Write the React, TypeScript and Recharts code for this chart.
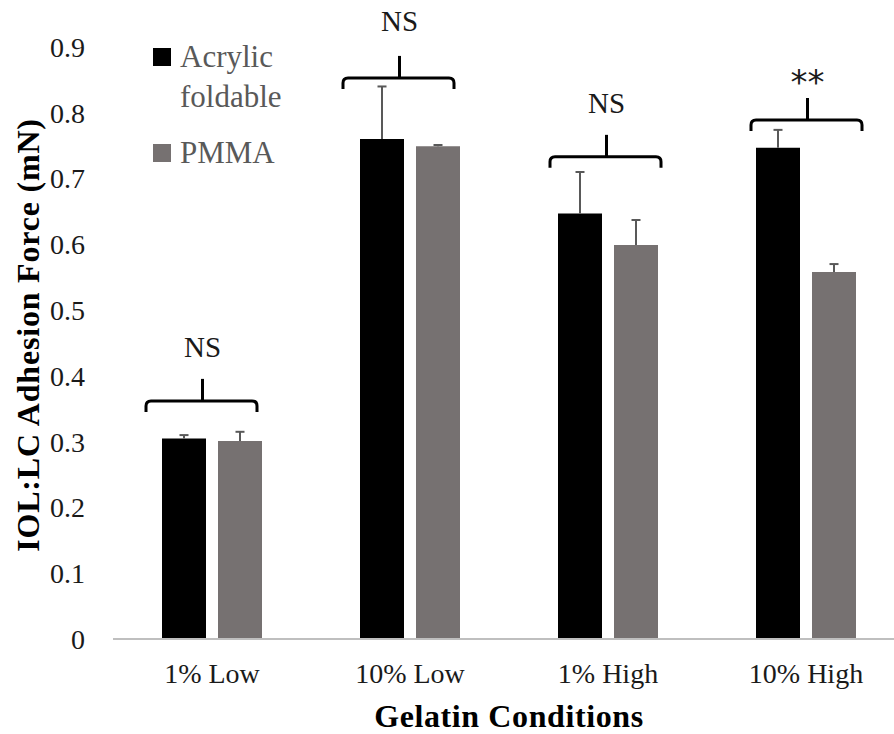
import { BarChart, Bar, XAxis, YAxis, Legend, LabelList } from 'recharts'

const categories = ['1% Low', '10% Low', '1% High', '10% High']
const acrylic = [0.305, 0.76, 0.647, 0.747]
const acrylicErr = [0.005, 0.08, 0.063, 0.027]
const pmma = [0.301, 0.749, 0.599, 0.558]
const pmmaErr = [0.014, 0.002, 0.038, 0.012]

// significance brackets, in axis units
const bracketLevel = [0.362, 0.853, 0.733, 0.789]
const sigLabels = ['NS', 'NS', 'NS', '**']
const sigLevel = [0.429, 0.924, 0.8, 0.829]

const yTicks = [0, 0.1, 0.2, 0.3, 0.4, 0.5, 0.6, 0.7, 0.8, 0.9]

const SERIF = "'Liberation Serif', 'Times New Roman', serif"
const BAR_W = 44
const BAR_GAP = 12
// the brackets were placed by hand, a bit off the bar pair
const bracketShift = [-16, -17, -8, -5]
const BRACKET_W = 111

const data = categories.map((name, i) => ({
  name,
  acrylic: acrylic[i],
  pmma: pmma[i],
}))

// plus-only error bars, like the Excel original
function whisker(values: number[], errs: number[]) {
  return (props: any) => {
    const vb = props.viewBox ?? props
    const i = props.index
    if (i == null || vb == null) return null
    const { x, y, width, height } = vb
    const k = height / values[i]
    const top = y - errs[i] * k
    const cx = x + width / 2
    return (
      <g stroke="#595959" strokeWidth={2}>
        <line x1={cx} y1={y} x2={cx} y2={top} />
        <line x1={cx - 4.5} y1={top} x2={cx + 4.5} y2={top} />
      </g>
    )
  }
}

function Bracket(props: any) {
  const vb = props.viewBox ?? props
  const i = props.index
  if (i == null || vb == null) return null
  const { x, y, height } = vb
  const base = y + height
  const k = height / acrylic[i]
  const py = (v: number) => base - v * k
  const left = x + bracketShift[i]
  const right = left + BRACKET_W
  const cx = (left + right) / 2 + 1
  const yh = py(bracketLevel[i])
  const r = 5
  const d = `M${left},${yh + 11} L${left},${yh + r} Q${left},${yh} ${left + r},${yh} L${right - r},${yh} Q${right},${yh} ${right},${yh + r} L${right},${yh + 11}`
  const star = sigLabels[i] === '**'
  return (
    <g>
      <path d={d} fill="none" stroke="#000" strokeWidth={3} />
      <path d={`M${cx},${yh} L${cx},${yh - 22}`} stroke="#000" strokeWidth={3} />
      <text
        x={cx}
        y={py(sigLevel[i])}
        textAnchor="middle"
        fontFamily={star ? "'DejaVu Sans', sans-serif" : SERIF}
        fontSize={star ? 34 : 29}
        fill="#1a1a1a"
      >
        {sigLabels[i]}
      </text>
    </g>
  )
}

function LegendBox({ payload }: any) {
  return (
    <div style={{ fontFamily: SERIF, fontSize: 31, lineHeight: '40px', color: '#595959' }}>
      {(payload ?? []).map((p: any, i: number) => (
        <div key={i} style={{ display: 'flex', alignItems: 'flex-start', marginBottom: 16 }}>
          <span
            style={{ width: 18, height: 18, background: p.color, marginTop: 11.5, marginRight: 9, flex: 'none' }}
          />
          <span style={{ width: 112 }}>{p.value}</span>
        </div>
      ))}
    </div>
  )
}

function XTitle(props: any) {
  const vb = props.viewBox ?? {}
  return (
    <text
      x={vb.x + vb.width / 2}
      y={vb.y + vb.height - 7}
      textAnchor="middle"
      fontFamily={SERIF}
      fontWeight="bold"
      fontSize={32}
      letterSpacing={0.6}
      fill="#000"
    >
      Gelatin Conditions
    </text>
  )
}

function YTitle(props: any) {
  const vb = props.viewBox ?? {}
  const cx = 39
  const cy = vb.y + vb.height / 2 - 8
  return (
    <text
      x={cx}
      y={cy}
      transform={`rotate(-90, ${cx}, ${cy})`}
      textAnchor="middle"
      fontFamily={SERIF}
      fontWeight="bold"
      fontSize={32}
      letterSpacing={0.8}
      fill="#000"
    >
      IOL:LC Adhesion Force (mN)
    </text>
  )
}

export default function App() {
  return (
    <div
      style={{
        position: 'absolute',
        left: 0,
        top: 0,
        width: 894,
        height: 734,
        overflow: 'hidden',
        background: '#fff',
      }}
    >
      <BarChart
        width={915}
        height={734}
        data={data}
        barGap={BAR_GAP}
        margin={{ top: 47, right: 10, left: 0, bottom: 0 }}
      >
        <XAxis
          dataKey="name"
          interval={0}
          height={95}
          tickLine={false}
          tickSize={0}
          tickMargin={24}
          axisLine={{ stroke: '#bfbfbf', strokeWidth: 2 }}
          tick={{ fontFamily: SERIF, fontSize: 28, fill: '#1a1a1a' }}
          label={XTitle}
        />
        <YAxis
          domain={[0, 0.9]}
          ticks={yTicks}
          width={113}
          axisLine={false}
          tickLine={false}
          tickSize={0}
          tickMargin={28}
          tickFormatter={(v) => (v === 0 ? '0' : Number(v).toFixed(1))}
          tick={{ fontFamily: SERIF, fontSize: 28, fill: '#1a1a1a' }}
          label={YTitle}
        />
        <Legend
          layout="vertical"
          align="center"
          verticalAlign="middle"
          content={LegendBox}
          wrapperStyle={{ left: 153, top: 36.5, width: 'auto', height: 'auto' }}
        />
        <Bar dataKey="acrylic" name="Acrylic foldable" fill="#000000" barSize={BAR_W} isAnimationActive={false}>
          <LabelList dataKey="acrylic" content={whisker(acrylic, acrylicErr)} />
          <LabelList dataKey="acrylic" content={Bracket} />
        </Bar>
        <Bar dataKey="pmma" name="PMMA" fill="#767171" barSize={BAR_W} isAnimationActive={false}>
          <LabelList dataKey="pmma" content={whisker(pmma, pmmaErr)} />
        </Bar>
      </BarChart>
    </div>
  )
}
